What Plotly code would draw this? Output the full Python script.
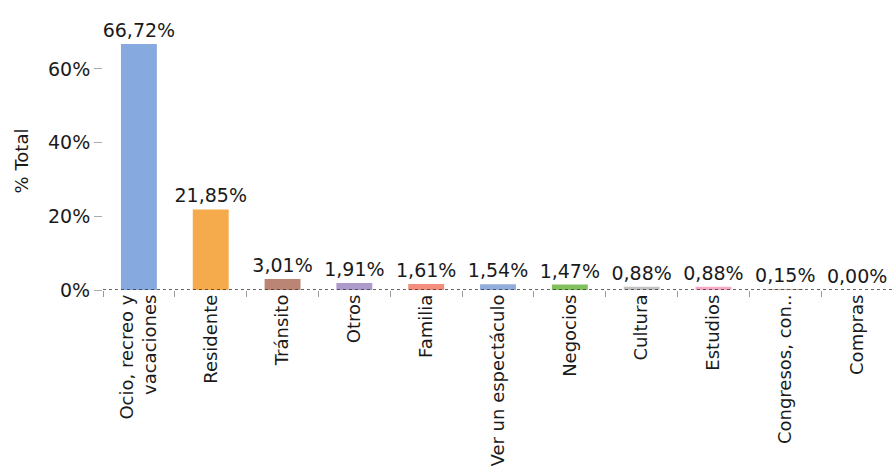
import plotly.graph_objects as go

categories = ["Ocio, recreo y<br>vacaciones", "Residente", "Tránsito", "Otros", "Familia",
              "Ver un espectáculo", "Negocios", "Cultura", "Estudios", "Congresos, con..", "Compras"]
values = [66.72, 21.85, 3.01, 1.91, 1.61, 1.54, 1.47, 0.88, 0.88, 0.15, 0.00]
colors = ["#86A9DF", "#F5AA4C", "#BA8574", "#AC9ACB", "#F28E7B", "#93ADDB",
          "#82C05E", "#C2C2C2", "#F4A9C6", "#C9B6A8", "#D9C8E0"]
y_ticks = [0, 20, 40, 60]
y_tick_labels = ["0%", "20%", "40%", "60%"]

FONT = "DejaVu Sans"

fig = go.Figure(go.Bar(
    x=categories, y=values,
    marker=dict(color=colors, line=dict(width=0)),
    text=[f"{v:.2f}%".replace(".", ",") for v in values],
    textposition="outside", cliponaxis=False, constraintext="none",
    textfont=dict(family=FONT, size=19, color="#1a1a1a"),
    width=0.5,
))

fig.add_shape(type="line", xref="paper", yref="y", x0=0, x1=1, y0=0, y1=0,
              line=dict(color="#333333", width=1.5, dash="dot"), layer="above")

fig.update_layout(
    width=893, height=476,
    margin=dict(l=103, r=0, t=32, b=186),
    paper_bgcolor="white", plot_bgcolor="white",
    showlegend=False,
    font=dict(family=FONT, color="#1a1a1a"),
    xaxis=dict(
        tickangle=-90, tickfont=dict(family=FONT, size=18, color="#1a1a1a"),
        ticks="outside", tickson="boundaries", ticklen=6, tickcolor="#999999",
        showgrid=False, showline=False, zeroline=False, range=[-0.5, 10.5],
    ),
    yaxis=dict(
        range=[0, 70], tickvals=y_ticks, ticktext=y_tick_labels,
        tickfont=dict(family=FONT, size=19, color="#1a1a1a"),
        ticks="outside", ticklen=8, tickcolor="#aaaaaa",
        showgrid=False, zeroline=False, showline=False,
        title=dict(text="% Total", font=dict(family=FONT, size=18, color="#1a1a1a"), standoff=14),
    ),
)

fig.write_html("out.html")
